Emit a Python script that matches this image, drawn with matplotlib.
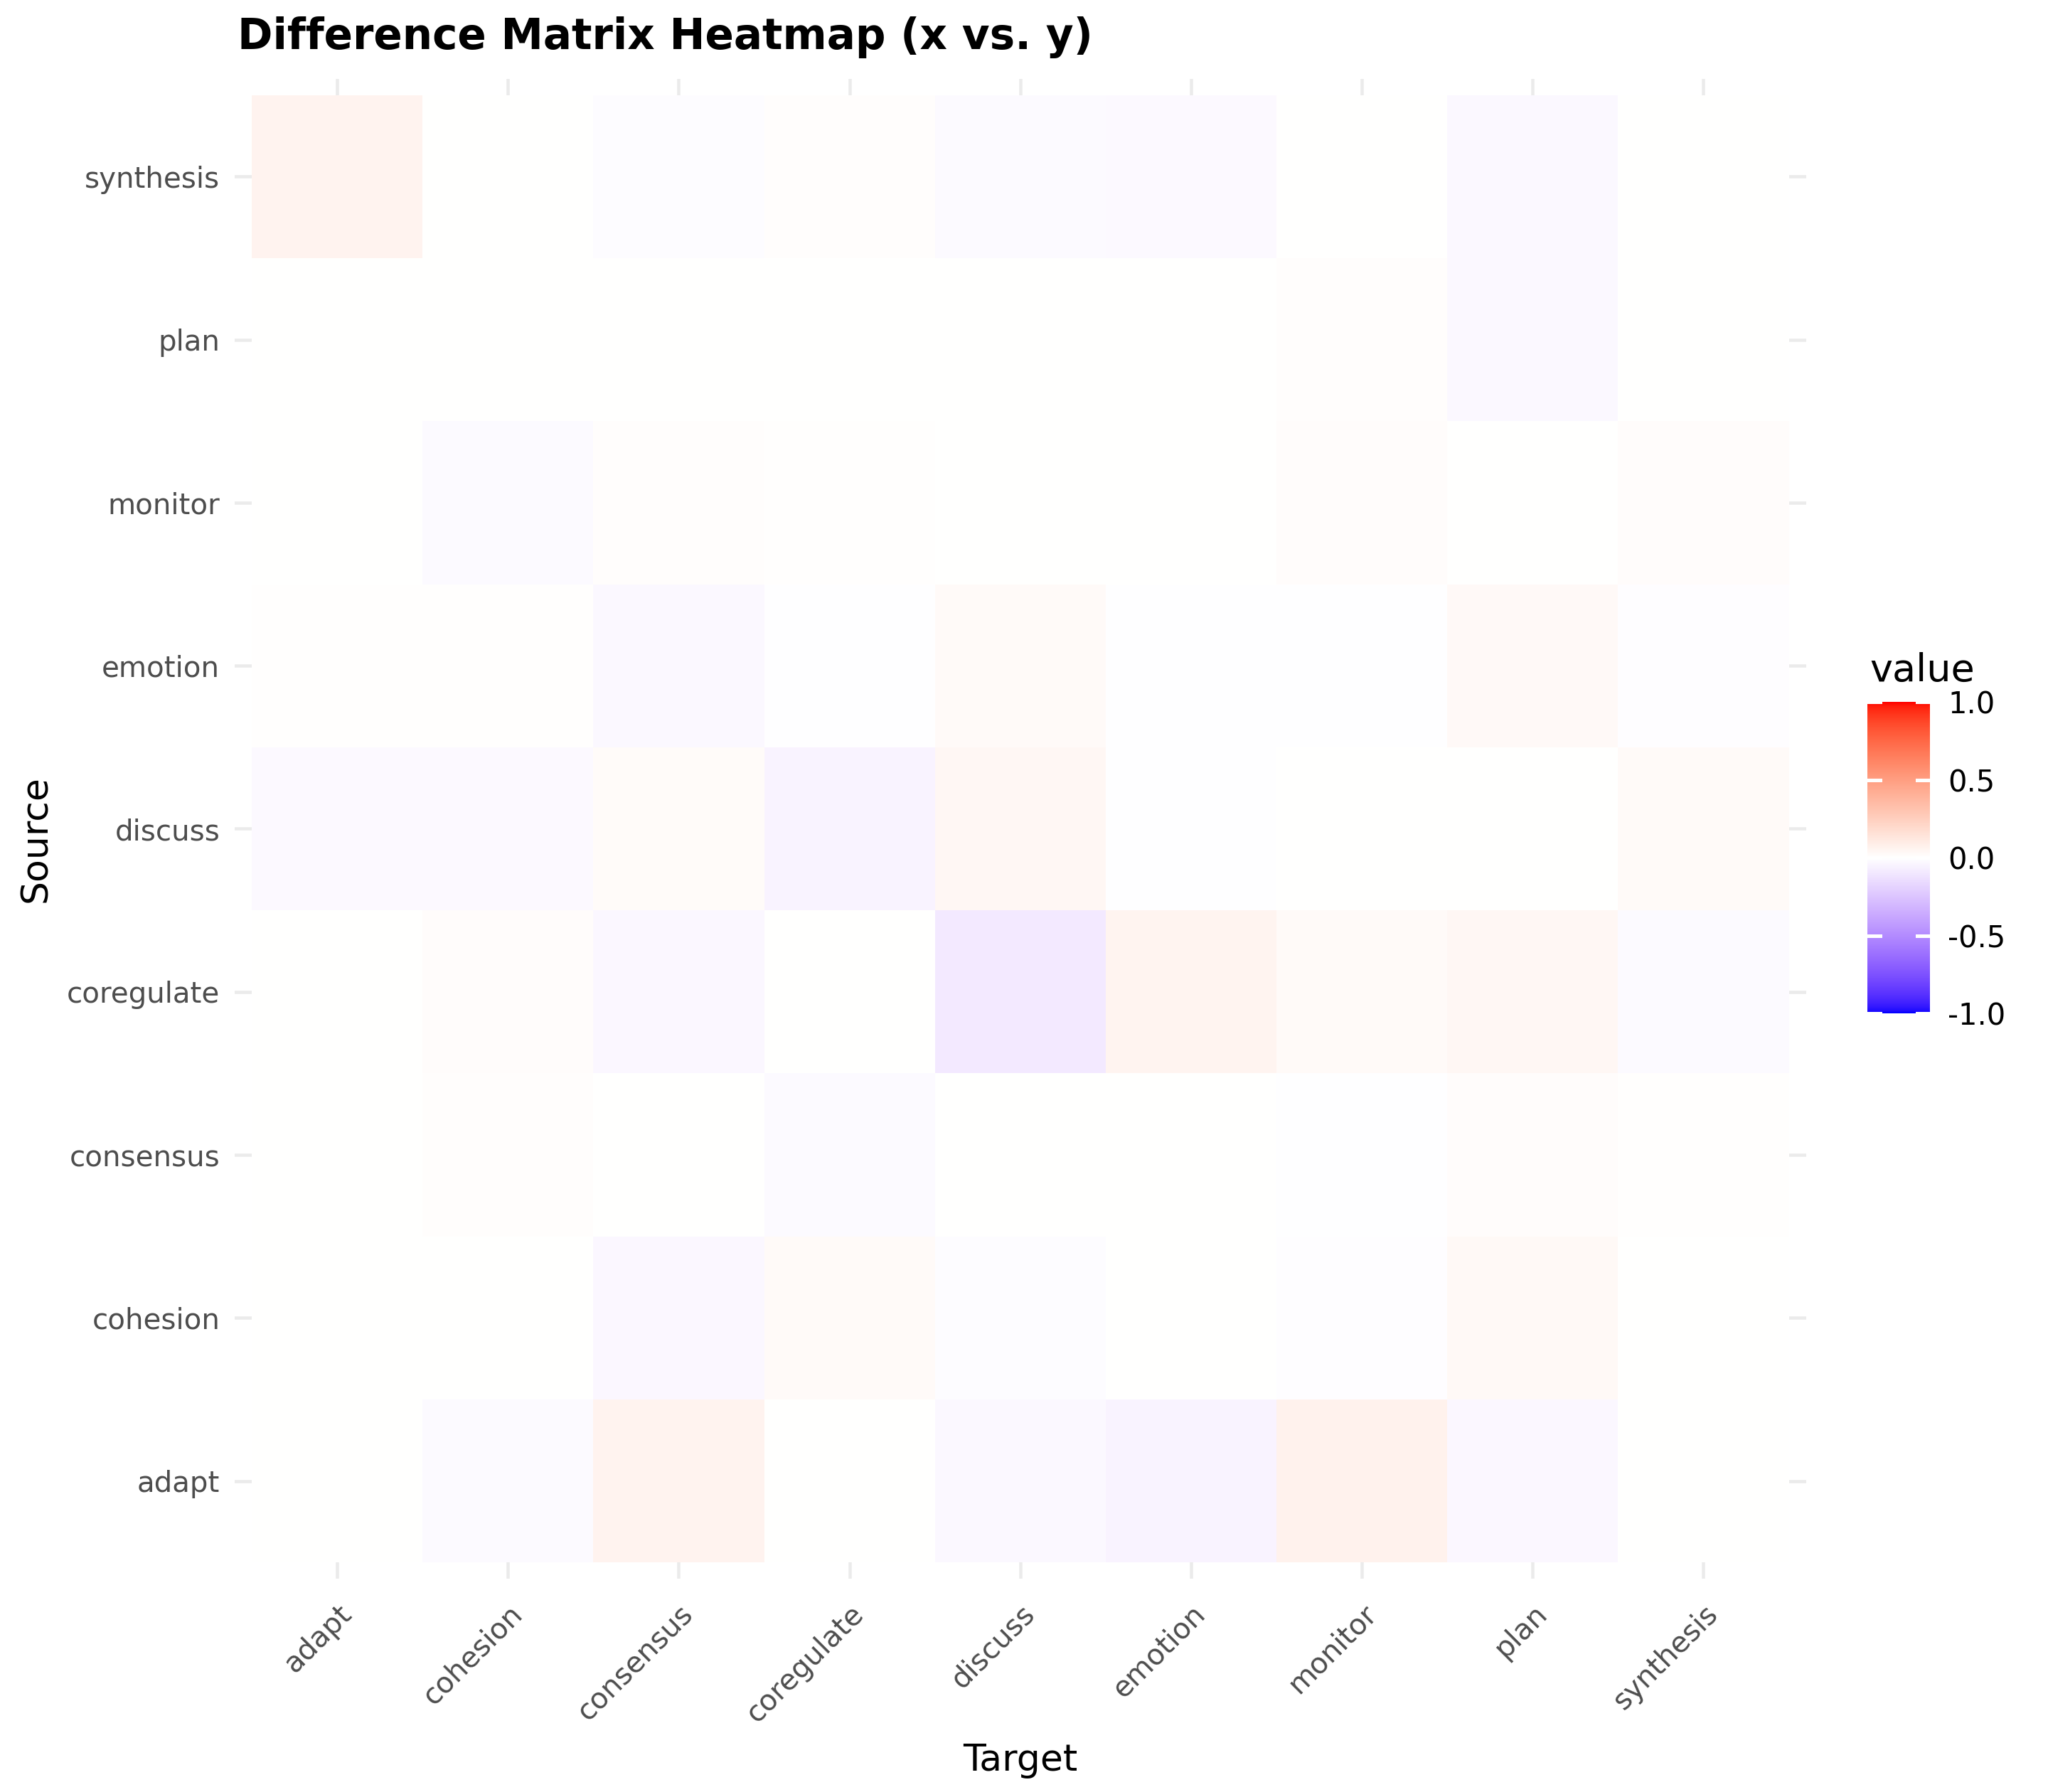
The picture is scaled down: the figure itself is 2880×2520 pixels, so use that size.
import matplotlib
matplotlib.use("Agg")
import matplotlib.pyplot as plt
import numpy as np
from matplotlib.colors import ListedColormap, Normalize

# categories (x = target, y = source, bottom to top)
targets = ["adapt", "cohesion", "consensus", "coregulate", "discuss",
           "emotion", "monitor", "plan", "synthesis"]
sources = ["adapt", "cohesion", "consensus", "coregulate", "discuss",
           "emotion", "monitor", "plan", "synthesis"]

# difference values, one list per source row (columns follow targets)
row_adapt = [0.0, -0.02, 0.06, 0.0, -0.03, -0.05, 0.07, -0.035, 0.0]
row_cohesion = [0.0, 0.0, -0.035, 0.025, -0.015, 0.0, -0.008, 0.035, 0.0]
row_consensus = [0.0, 0.008, 0.0, -0.02, 0.0, 0.0, -0.006, 0.015, 0.004]
row_coregulate = [0.0, 0.015, -0.035, 0.0, -0.09, 0.055, 0.025, 0.04, -0.02]
row_discuss = [-0.025, -0.025, 0.02, -0.05, 0.04, -0.005, 0.0, 0.0, 0.025]
row_emotion = [0.004, 0.005, -0.03, -0.005, 0.025, -0.005, -0.004, 0.03, -0.008]
row_monitor = [0.0, -0.02, 0.01, 0.005, 0.0, 0.002, 0.012, 0.0, 0.012]
row_plan = [0.0, 0.0, 0.0, 0.0, 0.0, 0.003, 0.01, -0.03, 0.0]
row_synthesis = [0.06, 0.0, -0.015, 0.01, -0.02, -0.025, 0.0, -0.03, 0.0]

legend_ticks = [-1.0, -0.5, 0.0, 0.5, 1.0]

values = np.array([row_adapt, row_cohesion, row_consensus, row_coregulate,
                   row_discuss, row_emotion, row_monitor, row_plan, row_synthesis])


# gradient2-style colour scale (blue - white - red), interpolated in Lab space
def rgb_to_lab(rgb):
    c = np.asarray(rgb, dtype=float)
    c = np.where(c > 0.04045, ((c + 0.055) / 1.055) ** 2.4, c / 12.92)
    m = np.array([[0.4124, 0.3576, 0.1805],
                  [0.2126, 0.7152, 0.0722],
                  [0.0193, 0.1192, 0.9505]])
    xyz = m @ c / np.array([0.95047, 1.0, 1.08883])
    f = np.where(xyz > (6 / 29) ** 3, np.cbrt(xyz), xyz / (3 * (6 / 29) ** 2) + 4 / 29)
    return np.array([116 * f[1] - 16, 500 * (f[0] - f[1]), 200 * (f[1] - f[2])])


def lab_to_rgb(lab):
    L, a, b = lab
    fy = (L + 16) / 116
    f = np.array([fy + a / 500, fy, fy - b / 200])
    xyz = np.where(f > 6 / 29, f ** 3, 3 * (6 / 29) ** 2 * (f - 4 / 29))
    xyz = xyz * np.array([0.95047, 1.0, 1.08883])
    m = np.array([[3.2406, -1.5372, -0.4986],
                  [-0.9689, 1.8758, 0.0415],
                  [0.0557, -0.2040, 1.0570]])
    c = m @ xyz
    c = np.where(c > 0.0031308, 1.055 * np.abs(c) ** (1 / 2.4) - 0.055, 12.92 * c)
    return np.clip(c, 0, 1)


lab_low = rgb_to_lab([0, 0, 1])
lab_mid = rgb_to_lab([1, 1, 1])
lab_high = rgb_to_lab([1, 0, 0])
colors = []
for t in np.linspace(-1, 1, 512):
    end = lab_low if t < 0 else lab_high
    colors.append(lab_to_rgb(lab_mid + abs(t) * (end - lab_mid)))
cmap = ListedColormap(colors)
norm = Normalize(vmin=-1, vmax=1)

fig = plt.figure(figsize=(9.6, 8.4), dpi=300)
ax = fig.add_axes([0.1146, 0.119, 0.7672, 0.837])

ax.set_axisbelow(True)
ax.grid(True, color="#EBEBEB", linewidth=1.1)
mesh = ax.pcolormesh(np.arange(len(targets) + 1) - 0.5,
                     np.arange(len(sources) + 1) - 0.5,
                     values, cmap=cmap, norm=norm, zorder=2)

ax.set_xlim(-0.6, len(targets) - 0.4)
ax.set_ylim(-0.6, len(sources) - 0.4)
ax.set_xticks(range(len(targets)))
ax.set_yticks(range(len(sources)))
ax.set_xticklabels(targets, rotation=45, ha="right", va="top", rotation_mode="anchor")
ax.set_yticklabels(sources)
ax.tick_params(axis="y", length=0, labelsize=9.7, labelcolor="#4D4D4D", pad=5)
ax.tick_params(axis="x", length=0, labelsize=9.7, labelcolor="#4D4D4D", pad=7)
for s in ax.spines.values():
    s.set_visible(False)

fig.text(334 / 2880, 1 - 52 / 2520, "Difference Matrix Heatmap (x vs. y)",
         fontsize=14.3, fontweight="bold", ha="left", va="center")
fig.text(0.1146 + 0.7672 / 2, 1 - 2476 / 2520, "Target", fontsize=12.5,
         ha="center", va="center")
fig.text(51 / 2880, 0.532, "Source", fontsize=12.5, rotation=90,
         ha="center", va="center")

# colour bar
cax = fig.add_axes([0.9118, 0.4345, 0.0306, 0.1737])
cb = fig.colorbar(mesh, cax=cax, ticks=legend_ticks)
cb.outline.set_visible(False)
cb.ax.tick_params(length=0, labelsize=10, pad=6)
cb.ax.set_yticklabels([f"{t:.1f}" for t in legend_ticks])
for t in legend_ticks:
    cax.plot([0, 0.2], [t, t], color="white", linewidth=1.2, transform=cax.get_yaxis_transform())
    cax.plot([0.8, 1.0], [t, t], color="white", linewidth=1.2, transform=cax.get_yaxis_transform())
fig.text(2629 / 2880, 1 - 958 / 2520, "value", fontsize=13, ha="left", va="baseline")

fig.savefig("out.png", dpi=300, facecolor="white")
